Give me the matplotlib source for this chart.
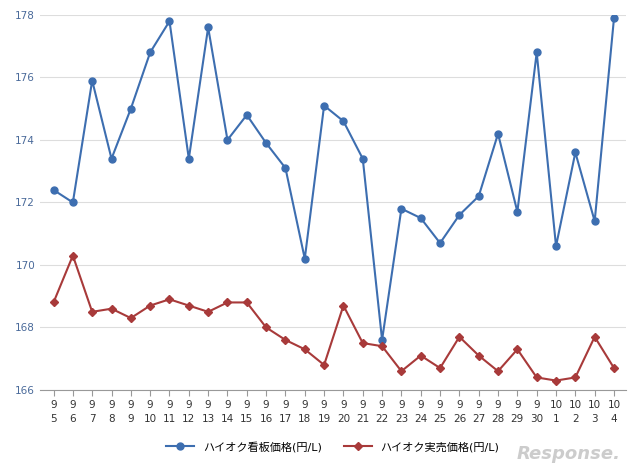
import matplotlib.pyplot as plt

months = [9] * 26 + [10] * 4
days = list(range(5, 31)) + [1, 2, 3, 4]
tick_labels = ["%d\n%d" % (m, d) for m, d in zip(months, days)]

signboard = [172.4, 172.0, 175.9, 173.4, 175.0, 176.8, 177.8, 173.4, 177.6, 174.0,
             174.8, 173.9, 173.1, 170.2, 175.1, 174.6, 173.4, 167.6, 171.8, 171.5,
             170.7, 171.6, 172.2, 174.2, 171.7, 176.8, 170.6, 173.6, 171.4, 177.9]
actual = [168.8, 170.3, 168.5, 168.6, 168.3, 168.7, 168.9, 168.7, 168.5, 168.8,
          168.8, 168.0, 167.6, 167.3, 166.8, 168.7, 167.5, 167.4, 166.6, 167.1,
          166.7, 167.7, 167.1, 166.6, 167.3, 166.4, 166.3, 166.4, 167.7, 166.7]

plt.rcParams['font.family'] = ['DejaVu Sans', 'Noto Sans CJK JP']

fig = plt.figure(figsize=(6.4, 4.67), dpi=100)
ax = fig.add_axes([0.0625, 0.165, 0.915, 0.803])
x = range(len(signboard))
ax.plot(x, signboard, color='#3d6eb0', marker='o', markersize=5, linewidth=1.5,
        label='ハイオク看板価格(円/L)')
ax.plot(x, actual, color='#a83a3a', marker='D', markersize=4, linewidth=1.5,
        label='ハイオク実売価格(円/L)')

ax.set_ylim(166, 178)
ax.set_yticks(range(166, 179, 2))
ax.set_xlim(-0.7, 29.6)
ax.set_xticks(list(x))
ax.set_xticklabels(tick_labels, fontsize=7.5, color='#333333', linespacing=1.4)
ax.tick_params(axis='y', labelsize=7.5, labelcolor='#4a6a9a', length=0)
ax.tick_params(axis='x', length=4, color='#999999')
ax.grid(axis='y', color='#dddddd', linewidth=0.8)
ax.set_axisbelow(True)
for s in ['top', 'right', 'left']:
    ax.spines[s].set_visible(False)
ax.spines['bottom'].set_color('#999999')

ax.legend(loc='upper center', bbox_to_anchor=(0.5, -0.11), ncol=2, frameon=False,
          fontsize=8, handlelength=2.5, columnspacing=2)
fig.text(0.97, 0.008, 'Response.', fontsize=13, color='#cccccc', ha='right',
         va='bottom', style='italic', weight='bold')

fig.savefig('out.png')
